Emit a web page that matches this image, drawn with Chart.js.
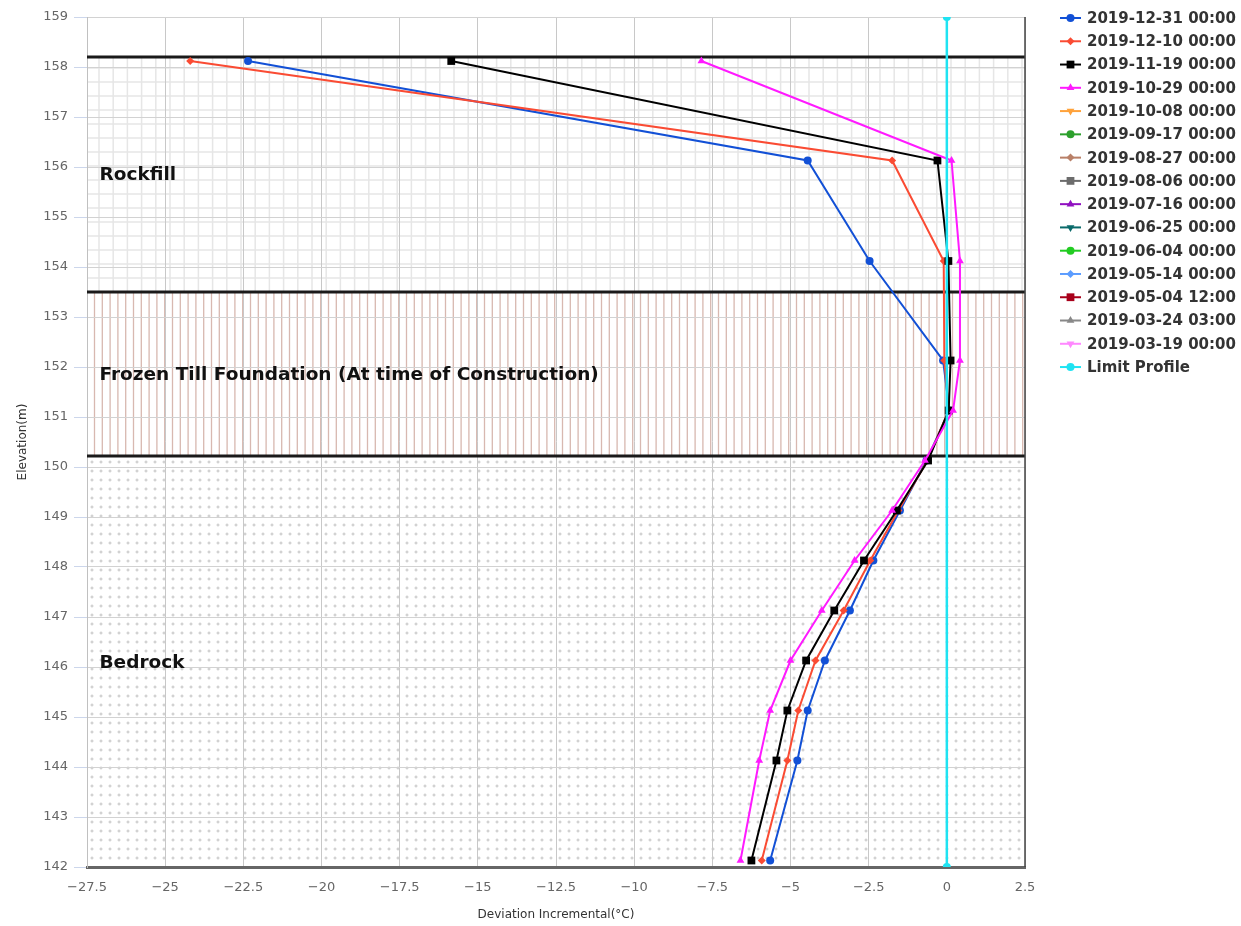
<!DOCTYPE html>
<html>
<head>
<meta charset="utf-8">
<script src="https://cdn.jsdelivr.net/npm/chart.js@4.4.1/dist/chart.umd.min.js"></script>
<style>
  html, body { margin: 0; padding: 0; background: #fff; }
  #wrap { width: 1241px; height: 926px; }
</style>
</head>
<body>
<div id="wrap"><canvas id="chart" width="1241" height="926"></canvas></div>
<script>
    // depths the thermistor readings sit at (m)
    const elevations = [158.12, 156.13, 154.12, 152.13, 151.13, 150.13, 149.13, 148.13, 147.13, 146.13, 145.13, 144.13, 142.13];

    const dev20191231 = [-22.35, -4.45, -2.47, -0.12, 0.08, -0.65, -1.5, -2.35, -3.1, -3.9, -4.45, -4.78, -5.65];
    const dev20191210 = [-24.2, -1.75, -0.1, -0.08, 0.06, -0.62, -1.55, -2.45, -3.3, -4.2, -4.75, -5.1, -5.92];
    const dev20191119 = [-15.85, -0.3, 0.05, 0.12, 0.06, -0.6, -1.6, -2.65, -3.6, -4.5, -5.1, -5.45, -6.25];
    const dev20191029 = [-7.85, 0.15, 0.42, 0.42, 0.2, -0.7, -1.75, -2.95, -4.0, -5.0, -5.65, -6.0, -6.6];

    const limitX = [0, 0];
    const limitY = [142, 159];

    const seriesNames = [
        '2019-12-31 00:00', '2019-12-10 00:00', '2019-11-19 00:00', '2019-10-29 00:00',
        '2019-10-08 00:00', '2019-09-17 00:00', '2019-08-27 00:00', '2019-08-06 00:00',
        '2019-07-16 00:00', '2019-06-25 00:00', '2019-06-04 00:00', '2019-05-14 00:00',
        '2019-05-04 12:00', '2019-03-24 03:00', '2019-03-19 00:00', 'Limit Profile'
    ];
    const seriesValues = [dev20191231, dev20191210, dev20191119, dev20191029, [], [], [], [], [], [], [], [], [], [], []];
    const seriesColors = [
        '#1250d6', '#fa4b33', '#000000', '#ff1aff', '#ffa23a', '#2ca02c', '#b98068', '#6c6c6c',
        '#9010c0', '#0a6a6a', '#22cc22', '#5b9cff', '#a8001a', '#888888', '#ff88ff', '#1fe3f2'
    ];
    const seriesSymbols = ['circle', 'diamond', 'square', 'triangle', 'triangle-down'];

    const xTicks = { min: -27.5, max: 2.5, step: 2.5 };
    const yTicks = { min: 142, max: 159, step: 1 };

    // soil layers
    const bandEdges = [158.2, 153.5, 150.22, 142];
    const zoneNames = ['Rockfill', 'Frozen Till Foundation (At time of Construction)', 'Bedrock'];
    const zoneLabelY = [155.84, 151.84, 146.08];
    const zoneLabelX = -27.1;

    function symbolStyle(sym) {
        if (sym === 'circle') return { pointStyle: 'circle', rotation: 0, radius: 4 };
        if (sym === 'diamond') return { pointStyle: 'rectRot', rotation: 0, radius: 4 };
        if (sym === 'square') return { pointStyle: 'rect', rotation: 0, radius: 5.5 };
        if (sym === 'triangle') return { pointStyle: 'triangle', rotation: 0, radius: 4.5 };
        return { pointStyle: 'triangle', rotation: 180, radius: 4.5 };
    }

    const datasets = seriesValues.map((vals, i) => {
        const s = symbolStyle(seriesSymbols[i % 5]);
        return {
            label: seriesNames[i],
            data: vals.map((v, k) => ({ x: v, y: elevations[k] })),
            borderColor: seriesColors[i],
            backgroundColor: seriesColors[i],
            borderWidth: 2,
            pointStyle: s.pointStyle,
            pointRotation: s.rotation,
            pointRadius: s.radius,
            pointBorderWidth: 0,
            showLine: true,
            tension: 0,
            order: -i
        };
    });
    const ls = symbolStyle('circle');
    datasets.push({
        label: seriesNames[15],
        data: limitX.map((v, k) => ({ x: v, y: limitY[k] })),
        borderColor: seriesColors[15],
        backgroundColor: seriesColors[15],
        borderWidth: 2.5,
        pointStyle: ls.pointStyle,
        pointRotation: 0,
        pointRadius: ls.radius,
        pointBorderWidth: 0,
        showLine: true,
        order: -15
    });

    const zonePlugin = {
        id: 'zones',
        beforeDraw(chart) {
            const { ctx, chartArea: a, scales: { x, y } } = chart;
            ctx.save();
            ctx.fillStyle = '#fff';
            ctx.fillRect(0, 0, chart.width, chart.height);
            const w = a.right - a.left;
            const y0 = y.getPixelForValue(bandEdges[0]);
            const y1 = y.getPixelForValue(bandEdges[1]);
            const y2 = y.getPixelForValue(bandEdges[2]);
            const y3 = y.getPixelForValue(bandEdges[3]);

            // rockfill: fine grid
            ctx.save();
            ctx.beginPath(); ctx.rect(a.left, y0, w, y1 - y0); ctx.clip();
            ctx.strokeStyle = '#e6e6e6'; ctx.lineWidth = 1.5;
            ctx.beginPath();
            for (let px = a.left + 12; px < a.right; px += 14.2) { ctx.moveTo(px, y0); ctx.lineTo(px, y1); }
            for (let py = y0 + 11; py < y1; py += 14) { ctx.moveTo(a.left, py); ctx.lineTo(a.right, py); }
            ctx.stroke();
            ctx.restore();

            // frozen till: vertical hatch
            ctx.save();
            ctx.beginPath(); ctx.rect(a.left, y1, w, y2 - y1); ctx.clip();
            ctx.strokeStyle = '#d8b8b0'; ctx.lineWidth = 1.3;
            ctx.beginPath();
            for (let px = a.left + 7.5; px < a.right; px += 7.8) { ctx.moveTo(px, y1); ctx.lineTo(px, y2); }
            ctx.stroke();
            ctx.restore();

            // bedrock: small crosses
            ctx.save();
            ctx.beginPath(); ctx.rect(a.left, y2, w, y3 - y2); ctx.clip();
            ctx.fillStyle = '#c4c4c4';
            for (let py = y2 + 6; py < y3; py += 9) {
                for (let px = a.left + 5; px < a.right; px += 9) {
                    ctx.fillRect(px - 1.5, py - 0.5, 3, 1);
                    ctx.fillRect(px - 0.5, py - 1.5, 1, 3);
                }
            }
            ctx.restore();
            ctx.restore();
        },
        beforeDatasetsDraw(chart) {
            const { ctx, chartArea: a, scales: { x, y } } = chart;
            ctx.save();
            // layer boundaries
            ctx.strokeStyle = '#1a1a1a'; ctx.lineWidth = 3;
            ctx.beginPath();
            for (let i = 0; i < 3; i++) {
                const py = Math.round(y.getPixelForValue(bandEdges[i]));
                ctx.moveTo(a.left, py); ctx.lineTo(a.right, py);
            }
            ctx.stroke();
            // right border
            ctx.strokeStyle = '#444'; ctx.lineWidth = 1.5;
            ctx.beginPath(); ctx.moveTo(a.right, a.top); ctx.lineTo(a.right, a.bottom); ctx.stroke();

            ctx.fillStyle = '#111';
            ctx.font = 'bold 18.5px "DejaVu Sans"';
            ctx.textBaseline = 'middle';
            ctx.textAlign = 'left';
            zoneNames.forEach((name, i) => {
                ctx.fillText(name, x.getPixelForValue(zoneLabelX), y.getPixelForValue(zoneLabelY[i]));
            });
            ctx.restore();
        },
        afterDraw(chart) {
            const ctx = chart.ctx;
            ctx.save();
            ctx.font = 'bold 15px "DejaVu Sans"';
            ctx.textBaseline = 'middle';
            chart.data.datasets.forEach((ds, i) => {
                const cy = 18 + i * 23.27;
                ctx.strokeStyle = ds.borderColor;
                ctx.lineWidth = 2;
                ctx.beginPath(); ctx.moveTo(1060, cy); ctx.lineTo(1081, cy); ctx.stroke();
                ctx.fillStyle = ds.backgroundColor;
                Chart.helpers.drawPoint(ctx, {
                    pointStyle: ds.pointStyle, rotation: ds.pointRotation,
                    radius: ds.pointRadius, borderWidth: 0
                }, 1070.5, cy);
                ctx.fillStyle = '#333';
                ctx.fillText(ds.label, 1087, cy + 1);
            });
            ctx.restore();
        }
    };

    const fmt = v => (v < 0 ? '\u2212' + Math.abs(v) : String(v));

    new Chart(document.getElementById('chart'), {
        type: 'scatter',
        data: { datasets: datasets },
        options: {
            responsive: false,
            animation: false,
            devicePixelRatio: 1,
            events: [],
            layout: { padding: { left: 0, right: 216, top: 17, bottom: 0 } },
            plugins: { legend: { display: false }, tooltip: { enabled: false } },
            scales: {
                x: {
                    type: 'linear',
                    min: xTicks.min, max: xTicks.max,
                    afterFit(scale) { scale.height = 59; },
                    ticks: {
                        stepSize: xTicks.step, padding: 13, color: '#666',
                        font: { family: '"DejaVu Sans"', size: 13 },
                        callback: fmt, maxRotation: 0
                    },
                    grid: { color: '#c8c8c8', lineWidth: 1, drawTicks: false },
                    border: { color: '#666', width: 3 },
                    title: {
                        display: true, text: 'Deviation Incremental(°C)', color: '#333',
                        font: { family: '"DejaVu Sans"', size: 12 }, padding: { top: 0, bottom: 4 }
                    }
                },
                y: {
                    type: 'linear',
                    min: yTicks.min, max: yTicks.max,
                    afterFit(scale) { scale.width = 87; },
                    ticks: {
                        stepSize: yTicks.step, padding: 6, color: '#666',
                        font: { family: '"DejaVu Sans"', size: 13 }
                    },
                    grid: { color: '#d2d2d2', lineWidth: 1, tickLength: 13, tickColor: '#ccd6eb' },
                    border: { color: '#c0c0c0', width: 1 },
                    title: {
                        display: true, text: 'Elevation(m)', color: '#333',
                        font: { family: '"DejaVu Sans"', size: 12 }, padding: { top: 16, bottom: 0 }
                    }
                }
            }
        },
        plugins: [zonePlugin]
    });
</script>
</body>
</html>
